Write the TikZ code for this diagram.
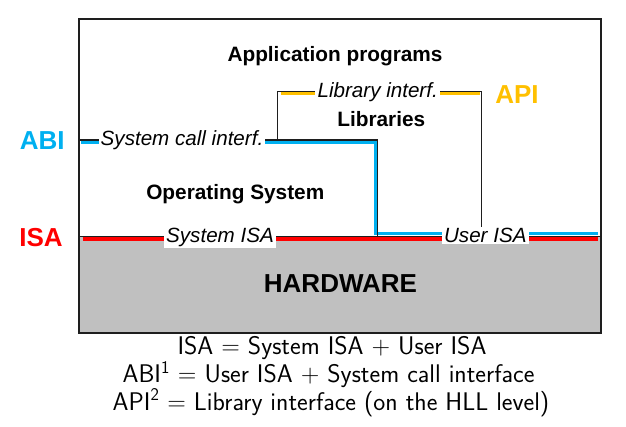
\documentclass[tikz,border=0pt]{standalone}
\usepackage{fontspec}
\newfontfamily\arial{Liberation Sans}
\definecolor{abiblue}{RGB}{0,176,240}
\definecolor{apiyellow}{RGB}{255,192,0}
\definecolor{isared}{RGB}{255,0,0}
\definecolor{hwgray}{RGB}{192,192,192}
\definecolor{framegray}{RGB}{30,30,30}
\pgfdeclarelayer{back}
\pgfdeclarelayer{mid}
\pgfsetlayers{back,mid,main}
\begin{document}
\begin{tikzpicture}[x=1pt,y=-1pt,
  every node/.style={inner sep=0pt},
  title/.style={font=\arial\bfseries\fontsize{20.8}{24}\selectfont, anchor=base},
  hwtitle/.style={font=\arial\bfseries\fontsize{26}{30}\selectfont, anchor=base},
  side/.style={font=\arial\bfseries\fontsize{26}{30}\selectfont, anchor=base},
  iface/.style={font=\arial\itshape\fontsize{20.6}{24}\selectfont, anchor=base, fill=white, inner xsep=2pt, inner ysep=1pt},
  formula/.style={font=\sffamily\fontsize{25.5}{28}\selectfont, anchor=base},
  frame/.style={draw=framegray, line width=1.6pt},
  bline/.style={draw=framegray, line width=1.5pt, line join=miter},
  abiline/.style={draw=abiblue, line width=3pt, line join=miter},
  isaline/.style={draw=isared, line width=3.5pt},
  apiline/.style={draw=apiyellow, line width=2.6pt}
]
\useasboundingbox (0,0) rectangle (626,427);

% labels
\node[title] (app) at (335,61.5) {Application programs};
\node[title] (lib) at (381.3,127) {Libraries};
\node[title] (os) at (235.3,200) {Operating System};
\node[hwtitle] (hw) at (340.5,292.3) {HARDWARE};
\node[side, text=abiblue] (abi) at (42.3,149.3) {ABI};
\node[side, text=isared] (isa) at (41,246.7) {ISA};
\node[side, text=apiyellow] (api) at (517,104) {API};

\node[iface] (sci) at (182,146) {System call interf.};
\node[iface] (li) at (377.7,98) {Library interf.};
\node[iface] (sisa) at (220,242.7) {System ISA};
\node[iface] (uisa) at (485.3,242.7) {User ISA};

\node[formula] (eq1) at (332,355) {ISA = System ISA + User ISA};
\node[formula] (eq2) at (328.5,382.5) {ABI\textsuperscript{1} = User ISA + System call interface};
\node[formula] (eq3) at (331,410) {API\textsuperscript{2} = Library interface (on the HLL level)};

% coordinates
\coordinate (TL) at (79,19);
\coordinate (BR) at (601,333);
\coordinate (HWT) at (79,236.7);
\coordinate (abiL) at (79,140);
\coordinate (osC1) at (377.7,140);
\coordinate (osC2) at (377.7,236.7);
\coordinate (isaR) at (601,236.7);
\coordinate (libL) at (277.7,140);
\coordinate (libT) at (277.7,91.7);
\coordinate (libTR) at (481.7,91.7);
\coordinate (abiB) at (80.5,142.3);
\coordinate (bC1) at (375.7,142.3);
\coordinate (bC2) at (375.7,234);
\coordinate (bR) at (597.5,234);
\coordinate (rL) at (82.5,239);
\coordinate (rR) at (597.5,239);
\coordinate (yL) at (280.5,93.8);
\coordinate (yR) at (480,93.8);

\begin{pgfonlayer}{back}
  \fill[hwgray] (HWT) rectangle (BR);
\end{pgfonlayer}

\begin{pgfonlayer}{mid}
  % coloured interface lines
  \draw[abiline] (abiB) -- (abiB -| sci.west);
  \draw[abiline] (abiB -| sci.east) -- (bC1) -- (bC2) -- (bC2 -| uisa.west);
  \draw[abiline] (bR -| uisa.east) -- (bR);
  \draw[isaline] (rL) -- (rL -| sisa.west);
  \draw[isaline] (rL -| sisa.east) -- (rL -| uisa.west);
  \draw[isaline] (rL -| uisa.east) -- (rR);
  \draw[apiline] (yL) -- (yL -| li.west);
  \draw[apiline] (yL -| li.east) -- (yR);
  % black boundaries
  \draw[bline] (abiL) -- (abiL -| sci.west);
  \draw[bline] (abiL -| sci.east) -- (osC1) -- (osC2);
  \draw[bline] (libL) -- (libT) -- (libT -| li.west);
  \draw[bline] (libT -| li.east) -- (libTR) -- (libTR |- uisa.north);
  \draw[bline] (HWT) -- (isaR);
  \draw[frame] (TL) rectangle (BR);
\end{pgfonlayer}
\end{tikzpicture}
\end{document}
